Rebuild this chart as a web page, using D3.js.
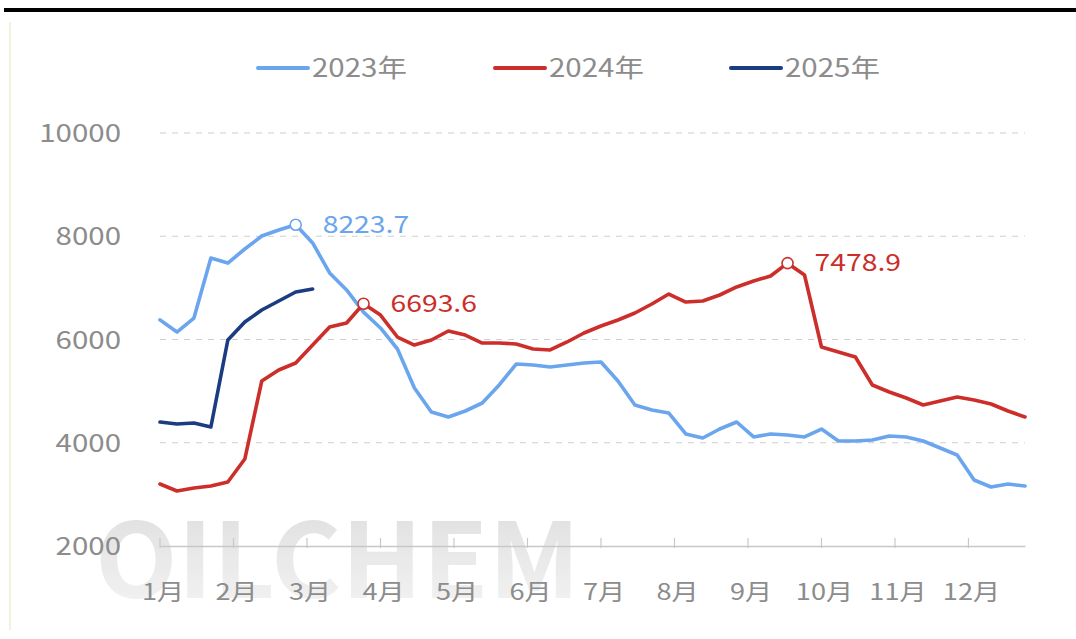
<!DOCTYPE html>
<html>
<head>
<meta charset="utf-8">
<script src="https://cdn.jsdelivr.net/npm/d3@7"></script>
<style>
  html, body { margin: 0; padding: 0; background: #fff; }
  svg { display: block; }
  text { font-family: "Noto Sans CJK SC", "Noto Sans", sans-serif; }
</style>
</head>
<body>
<svg id="chart" width="1076" height="639"></svg>
<script>
// ---- data (weekly, 52 weeks per year) ----
const monthLabels = ["1月","2月","3月","4月","5月","6月","7月","8月","9月","10月","11月","12月"];
const yTicks = [2000, 4000, 6000, 8000, 10000];
const seriesNames = ["2023年", "2024年", "2025年"];
const seriesColors = ["#6aa5ee", "#cc2e2a", "#1b3c80"];

const values2023 = [6380, 6145, 6416, 7578, 7480, 7753, 8004, 8120, 8223.7, 7870,
  7290, 6960, 6530, 6223, 5816, 5060, 4596, 4500, 4615, 4770,
  5119, 5525, 5506, 5467, 5506, 5545, 5564, 5196, 4731, 4634,
  4576, 4170, 4092, 4266, 4402, 4112, 4170, 4150, 4112, 4266,
  4034, 4034, 4053, 4131, 4112, 4034, 3898, 3763, 3278, 3143,
  3200, 3162];
const values2024 = [3201, 3065, 3124, 3162, 3240, 3685, 5196, 5409, 5545, 5893,
  6242, 6320, 6693.6, 6474, 6048, 5893, 5990, 6165, 6087, 5932,
  5932, 5913, 5816, 5797, 5952, 6126, 6261, 6378, 6513, 6687,
  6881, 6726, 6746, 6862, 7017, 7133, 7230, 7478.9, 7249, 5855,
  5758, 5661, 5119, 4983, 4867, 4731, 4809, 4886, 4828, 4751,
  4615, 4499];
const values2025 = [4402, 4363, 4383, 4305, 5990, 6339, 6571, 6746, 6920, 6978];

const allSeries = [values2023, values2024, values2025];
// annotated maxima: [series index, week index]
const annotations = [[0, 8], [1, 12], [1, 37]];

// ---- layout ----
const svg = d3.select("#chart");
const SX = 1.18; // horizontal text stretch of the original
const x = d3.scaleLinear().domain([0, 51]).range([160, 1025]);
const y = d3.scaleLinear().domain([2000, 10000]).range([546, 133]);

function stext(g, px, py, str, opts) {
  const t = g.append("text")
    .attr("transform", `translate(${px},${py}) scale(${SX},1)`)
    .text(str);
  Object.entries(opts || {}).forEach(([k, v]) => t.attr(k, v));
  return t;
}

// top black bar & faint left border
svg.append("rect").attr("x", 4).attr("y", 8).attr("width", 1072).attr("height", 4).attr("fill", "#000");
svg.append("line").attr("x1", 10).attr("x2", 10).attr("y1", 22).attr("y2", 630)
  .attr("stroke", "#f3f1de").attr("stroke-width", 2);

// watermark
const defs = svg.append("defs");
const grad = defs.append("linearGradient").attr("id", "wm").attr("x1", 0).attr("x2", 0).attr("y1", 0).attr("y2", 1);
grad.append("stop").attr("offset", "0%").attr("stop-color", "#d2d2d2");
grad.append("stop").attr("offset", "100%").attr("stop-color", "#f4f4f4");
svg.append("text").attr("x", 95).attr("y", 598)
  .attr("font-family", "Liberation Sans, Arial, sans-serif")
  .attr("font-weight", "bold").attr("font-size", 104)
  .attr("textLength", 485).attr("lengthAdjust", "spacingAndGlyphs")
  .attr("fill", "url(#wm)").attr("opacity", 0.8)
  .text("OILCHEM");

// grid lines
const grid = svg.append("g");
yTicks.filter(v => v > 2000).forEach(v => {
  grid.append("line").attr("x1", 160).attr("x2", 1025).attr("y1", y(v)).attr("y2", y(v))
    .attr("stroke", "#cfcfcf").attr("stroke-width", 1.2).attr("stroke-dasharray", "6,6");
});

// y axis labels
const yAxisG = svg.append("g");
yTicks.forEach(v => {
  stext(yAxisG, 121, y(v) + 9, String(v), {"text-anchor": "end", "font-size": 25, "fill": "#8c8c8c"});
});

// x axis
const monthPos = monthLabels.map((m, i) => i * 52 / 12);
const xAxis = d3.axisBottom(x).tickValues(monthPos).tickSize(0).tickFormat("");
const xg = svg.append("g").attr("transform", `translate(0,${y(2000)})`).call(xAxis);
xg.select(".domain").attr("stroke", "#c8c8c8").attr("stroke-width", 1.5);
monthPos.forEach(p => {
  svg.append("line").attr("x1", x(p)).attr("x2", x(p)).attr("y1", y(2000) - 8).attr("y2", y(2000) + 2)
    .attr("stroke", "#c8c8c8").attr("stroke-width", 1.2);
});
const xl = svg.append("g");
monthLabels.forEach((m, i) => {
  stext(xl, x(monthPos[i]) + 3, 600, m, {"text-anchor": "middle", "font-size": 23, "fill": "#8c8c8c"});
});

// lines
const line = d3.line().x((d, i) => x(i)).y(d => y(d));
allSeries.forEach((s, k) => {
  svg.append("path").datum(s).attr("d", line)
    .attr("fill", "none").attr("stroke", seriesColors[k]).attr("stroke-width", 3.6)
    .attr("stroke-linejoin", "round").attr("stroke-linecap", "round");
});

// annotations
const ann = svg.append("g");
annotations.forEach(([k, i]) => {
  const v = allSeries[k][i];
  ann.append("circle").attr("cx", x(i)).attr("cy", y(v)).attr("r", 5.5)
    .attr("fill", "#fff").attr("stroke", seriesColors[k]).attr("stroke-width", 1.6);
  stext(ann, x(i) + 27, y(v) + 8, v.toFixed(1), {"font-size": 24, "fill": seriesColors[k]});
});

// legend
const legX = [258, 495, 731];
const lg = svg.append("g");
seriesNames.forEach((n, k) => {
  lg.append("line").attr("x1", legX[k]).attr("x2", legX[k] + 50).attr("y1", 68).attr("y2", 68)
    .attr("stroke", seriesColors[k]).attr("stroke-width", 4).attr("stroke-linecap", "round");
  stext(lg, legX[k] + 54, 77, n, {"font-size": 25, "fill": "#8c8c8c"});
});
</script>
</body>
</html>
